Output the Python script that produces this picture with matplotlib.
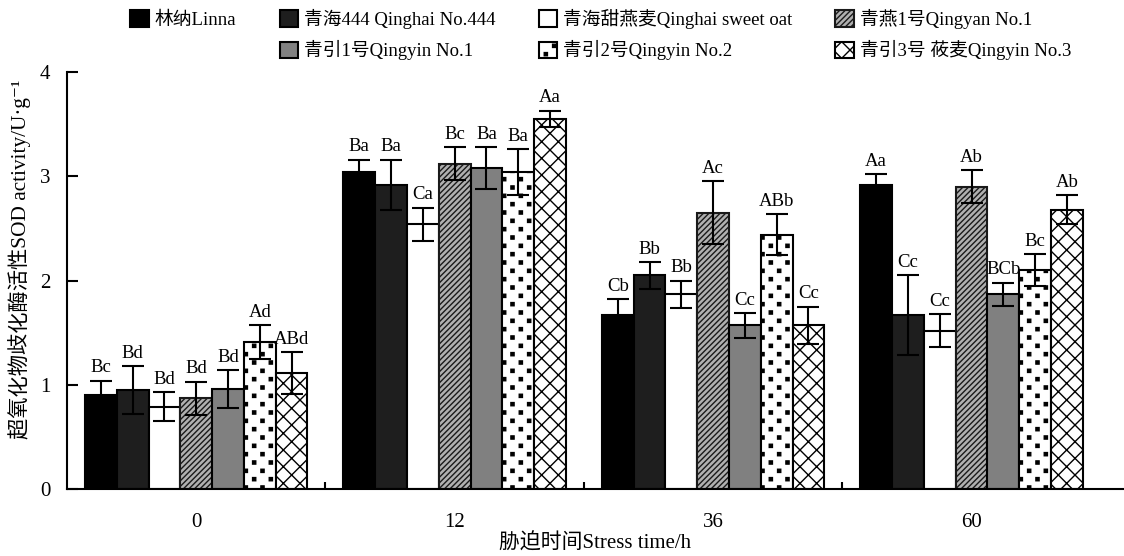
import warnings
import numpy as np
import matplotlib.pyplot as plt
import matplotlib.hatch as mhatch
from matplotlib.path import Path
from matplotlib.patches import Patch

warnings.filterwarnings('ignore')
plt.rcParams['font.family'] = ['Liberation Serif', 'Noto Sans CJK SC', 'DejaVu Sans']

groups = ['0', '12', '36', '60']
varieties = ['林纳Linna', '青海444 Qinghai No.444', '青海甜燕麦Qinghai sweet oat',
             '青燕1号Qingyan No.1', '青引1号Qingyin No.1', '青引2号Qingyin No.2',
             '青引3号 莜麦Qingyin No.3']

# SOD activity, one list per variety (values at 0, 12, 36, 60 h)
linna = [0.90, 3.04, 1.67, 2.92]
qinghai444 = [0.95, 2.92, 2.05, 1.67]
sweet_oat = [0.79, 2.54, 1.87, 1.52]
qingyan1 = [0.87, 3.12, 2.65, 2.90]
qingyin1 = [0.96, 3.08, 1.57, 1.87]
qingyin2 = [1.41, 3.04, 2.44, 2.10]
qingyin3 = [1.11, 3.55, 1.57, 2.68]

linna_err = [0.14, 0.12, 0.15, 0.10]
qinghai444_err = [0.23, 0.24, 0.13, 0.38]
sweet_oat_err = [0.14, 0.16, 0.13, 0.16]
qingyan1_err = [0.16, 0.16, 0.30, 0.16]
qingyin1_err = [0.18, 0.20, 0.12, 0.11]
qingyin2_err = [0.16, 0.22, 0.20, 0.15]
qingyin3_err = [0.20, 0.08, 0.18, 0.14]

linna_sig = ['Bc', 'Ba', 'Cb', 'Aa']
qinghai444_sig = ['Bd', 'Ba', 'Bb', 'Cc']
sweet_oat_sig = ['Bd', 'Ca', 'Bb', 'Cc']
qingyan1_sig = ['Bd', 'Bc', 'Ac', 'Ab']
qingyin1_sig = ['Bd', 'Ba', 'Cc', 'BCb']
qingyin2_sig = ['Ad', 'Ba', 'ABb', 'Bc']
qingyin3_sig = ['ABd', 'Aa', 'Cc', 'Ab']

values = [linna, qinghai444, sweet_oat, qingyan1, qingyin1, qingyin2, qingyin3]
errors = [linna_err, qinghai444_err, sweet_oat_err, qingyan1_err, qingyin1_err, qingyin2_err, qingyin3_err]
sigs = [linna_sig, qinghai444_sig, sweet_oat_sig, qingyan1_sig, qingyin1_sig, qingyin2_sig, qingyin3_sig]


class SquareDots(mhatch.HatchPatternBase):
    """Checkerboard of small filled squares, hatch letter 's'."""
    half = 0.016

    def __init__(self, hatch, density):
        self.n = hatch.count('s') * density
        if self.n % 2:
            self.n += 1
        self.num_shapes = self.n * (self.n // 2) if self.n else 0
        self.num_vertices = self.num_shapes * 5

    def set_vertices_and_codes(self, vertices, codes):
        n = self.n
        sq = np.array([[-1, -1], [1, -1], [1, 1], [-1, 1], [-1, -1]]) * self.half
        parts = []
        for r in range(n):
            for k in range(n // 2):
                cx = (2 * k + r % 2 + 0.5) / n
                cy = (r + 0.5) / n
                parts.append(sq + [cx, cy])
        vertices[:] = np.concatenate(parts)
        code = [Path.MOVETO, Path.LINETO, Path.LINETO, Path.LINETO, Path.CLOSEPOLY]
        codes[:] = np.tile(code, self.num_shapes)


mhatch._hatch_types.append(SquareDots)

styles = [
    dict(facecolor='black', edgecolor='black', hatch=None),
    dict(facecolor='#1e1e1e', edgecolor='black', hatch=None),
    dict(facecolor='white', edgecolor='black', hatch=None),
    dict(facecolor='#b0b0b0', edgecolor='#1a1a1a', hatch='//////'),
    dict(facecolor='#808080', edgecolor='black', hatch=None),
    dict(facecolor='white', edgecolor='black', hatch='ss'),
    dict(facecolor='white', edgecolor='black', hatch='xx'),
]

fig = plt.figure(figsize=(11.24, 5.56), dpi=100)
ax = fig.add_axes([0.0596, 0.1205, 0.9404, 0.75])

x = np.arange(len(groups)) + 0.5
w = 0.123
for i, (v, e, s, st) in enumerate(zip(values, errors, sigs, styles)):
    pos = x + (i - 3) * w
    ax.bar(pos, v, width=w, linewidth=1.5, **st)
    ax.errorbar(pos, v, yerr=e, fmt='none', ecolor='black', elinewidth=1.5,
                capsize=8, capthick=1.5)
    for px, vv, ee, lab in zip(pos, v, e, s):
        ax.text(px, vv + ee + 0.04, lab, ha='center', va='bottom', fontsize=13.5)

ax.set_xlim(0, 4.09)
ax.set_ylim(0, 4)
ax.set_yticks([0, 1, 2, 3, 4])
ax.set_xticks(x)
ax.set_xticklabels(groups)
ax.set_xticks([1, 2, 3], minor=True)
ax.tick_params(axis='x', which='major', length=0, labelsize=15, pad=17)
ax.tick_params(axis='x', which='minor', direction='in', length=5, width=1.5)
ax.tick_params(axis='y', direction='in', length=8, width=1.5, labelsize=15, pad=12)
for sp in ['top', 'right']:
    ax.spines[sp].set_visible(False)
for sp in ['left', 'bottom']:
    ax.spines[sp].set_linewidth(1.5)

ax.set_xlabel('胁迫时间Stress time/h', fontsize=15, labelpad=1)
ax.set_ylabel('超氧化物歧化酶活性SOD activity/U·g⁻¹', fontsize=15.3)
ax.yaxis.set_label_coords(-0.034, 0.55)

handles = [Patch(linewidth=1.5, **st) for st in styles]
blank = Patch(facecolor='none', edgecolor='none')
order = [0, None, 1, 4, 2, 5, 3, 6]
leg_h = [blank if k is None else handles[k] for k in order]
leg_l = ['' if k is None else varieties[k] for k in order]
fig.legend(leg_h, leg_l, loc='upper left', bbox_to_anchor=(0.101, 1.014), ncol=4,
           frameon=False, fontsize=13.5, handlelength=1.0, handleheight=1.0,
           handletextpad=0.3, columnspacing=2.3, labelspacing=0.6)

fig.savefig('out.png', dpi=100)
